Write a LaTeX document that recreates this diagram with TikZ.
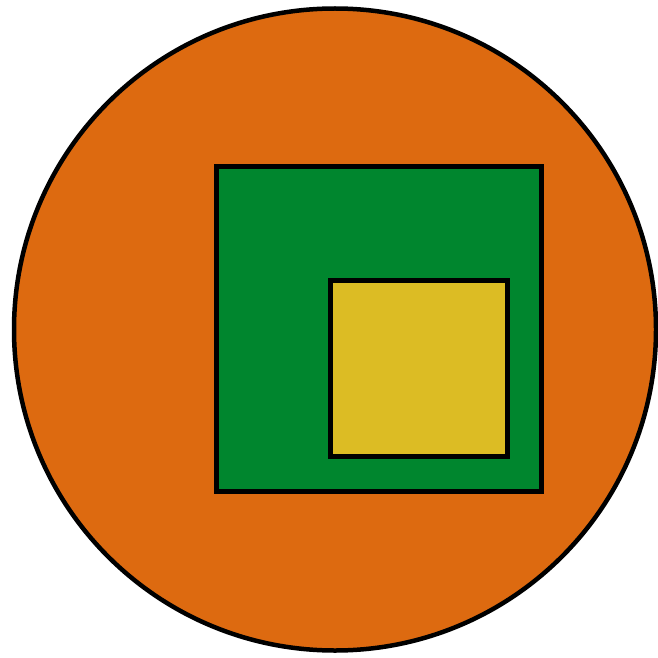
\documentclass[tikz,border=0pt]{standalone}
\usepackage{tikz}
\usetikzlibrary{positioning}
\definecolor{naranja}{RGB}{221,106,16}
\definecolor{verde}{RGB}{0,134,46}
\definecolor{mostaza}{RGB}{220,188,36}
\tikzset{
  every picture/.style={x=1pt, y=-1pt},
  disco/.style={circle, draw=black, fill=naranja, line width=4.5pt, inner sep=0pt, minimum size=642pt},
  caja/.style={rectangle, draw=black, fill=verde, line width=4.5pt, inner sep=0pt, minimum size=325pt},
  cajita/.style={rectangle, draw=black, fill=mostaza, line width=4.5pt, inner sep=0pt,
                 minimum width=177pt, minimum height=176pt},
}
\begin{document}
\begin{tikzpicture}
  \useasboundingbox (0,0) rectangle (657,658);
  \node[disco] (C) at (335,329.5) {};
  \node[caja] (G) at (379,329) {};
  \node[cajita] (Y) at (419,368.5) {};
\end{tikzpicture}
\end{document}
